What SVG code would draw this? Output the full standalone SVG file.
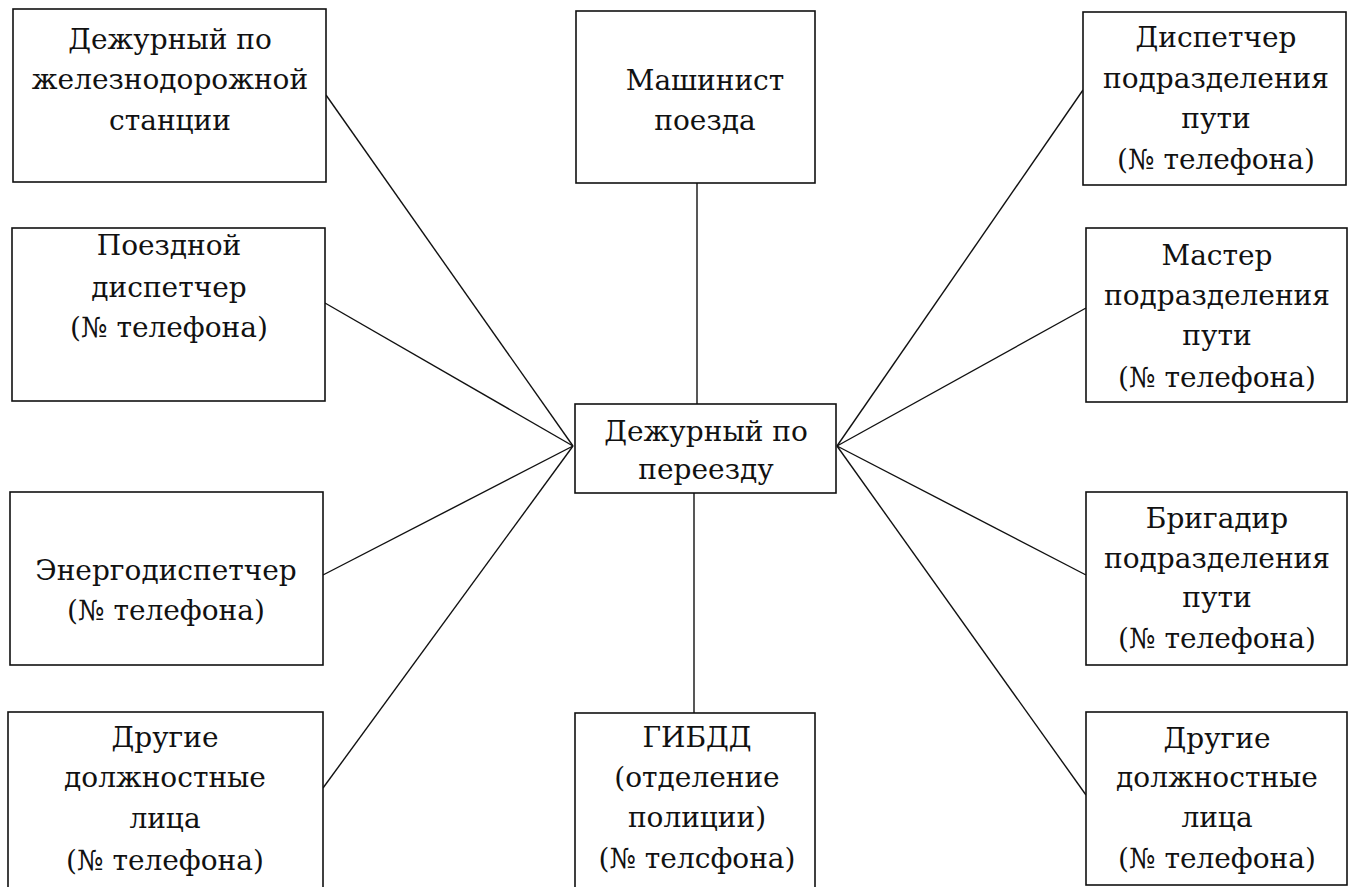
<svg xmlns="http://www.w3.org/2000/svg" width="1358" height="887" viewBox="0 0 1358 887">
<style>
rect{fill:#fff;stroke:#111;stroke-width:1.6}
line{stroke:#111;stroke-width:1.4}
text{font-family:'DejaVu Serif',serif;font-size:28px;fill:#111;text-anchor:middle}
</style>
<rect x="0" y="0" width="1358" height="887" style="stroke:none"/>
<g id="connectors">
<line x1="326" y1="95" x2="573" y2="446"/>
<line x1="325" y1="303" x2="573" y2="446"/>
<line x1="323" y1="575" x2="573" y2="446"/>
<line x1="323" y1="788" x2="573" y2="446"/>
<line x1="697" y1="183" x2="697" y2="404"/>
<line x1="694" y1="493" x2="694" y2="713"/>
<line x1="837" y1="446" x2="1083" y2="90"/>
<line x1="837" y1="446" x2="1086" y2="308"/>
<line x1="837" y1="446" x2="1086" y2="575"/>
<line x1="837" y1="446" x2="1086" y2="795"/>
</g>
<g id="n-station">
<rect x="13" y="9" width="313" height="173"/>
<text x="170" y="49">Дежурный по</text>
<text x="170" y="89">железнодорожной</text>
<text x="170" y="130">станции</text>
</g>
<g id="n-driver">
<rect x="576" y="11" width="239" height="172"/>
<text x="705" y="90">Машинист</text>
<text x="705" y="130">поезда</text>
</g>
<g id="n-track-dispatcher">
<rect x="1083" y="12" width="263" height="173"/>
<text x="1216" y="47">Диспетчер</text>
<text x="1216" y="88">подразделения</text>
<text x="1216" y="128">пути</text>
<text x="1216" y="169">(№ телефона)</text>
</g>
<g id="n-train-dispatcher">
<rect x="12" y="228" width="313" height="173"/>
<text x="169" y="255">Поездной</text>
<text x="169" y="297">диспетчер</text>
<text x="169" y="337">(№ телефона)</text>
</g>
<g id="n-master">
<rect x="1086" y="228" width="261" height="174"/>
<text x="1217" y="265">Мастер</text>
<text x="1217" y="305">подразделения</text>
<text x="1217" y="345">пути</text>
<text x="1217" y="387">(№ телефона)</text>
</g>
<g id="n-crossing">
<rect x="575" y="404" width="261" height="89"/>
<text x="706" y="441">Дежурный по</text>
<text x="706" y="479">переезду</text>
</g>
<g id="n-energy">
<rect x="10" y="492" width="313" height="173"/>
<text x="166" y="580">Энергодиспетчер</text>
<text x="166" y="620">(№ телефона)</text>
</g>
<g id="n-brigadier">
<rect x="1086" y="492" width="261" height="173"/>
<text x="1217" y="528">Бригадир</text>
<text x="1217" y="568">подразделения</text>
<text x="1217" y="607">пути</text>
<text x="1217" y="648">(№ телефона)</text>
</g>
<g id="n-others-left">
<rect x="8" y="712" width="315" height="185"/>
<text x="165" y="747">Другие</text>
<text x="165" y="787">должностные</text>
<text x="165" y="828">лица</text>
<text x="165" y="870">(№ телефона)</text>
</g>
<g id="n-police">
<rect x="575" y="713" width="240" height="184"/>
<text x="697" y="747">ГИБДД</text>
<text x="697" y="787">(отделение</text>
<text x="697" y="827">полиции)</text>
<text x="697" y="868">(№ телсфона)</text>
</g>
<g id="n-others-right">
<rect x="1086" y="712" width="261" height="173"/>
<text x="1217" y="748">Другие</text>
<text x="1217" y="787">должностные</text>
<text x="1217" y="827">лица</text>
<text x="1217" y="868">(№ телефона)</text>
</g>
</svg>
